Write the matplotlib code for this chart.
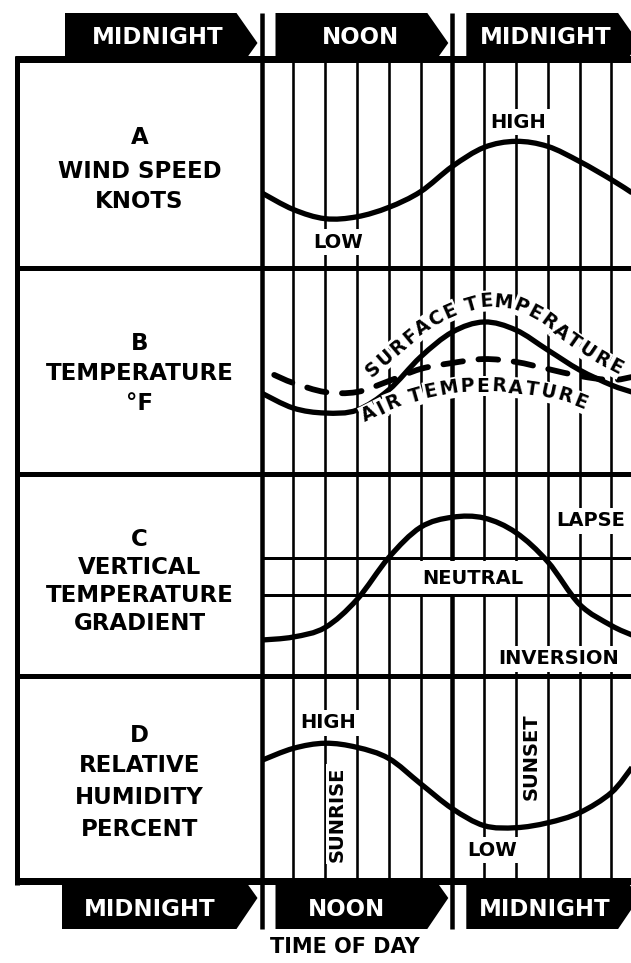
import numpy as np
import matplotlib
matplotlib.use("Agg")
import matplotlib.pyplot as plt
from matplotlib.path import Path
from matplotlib.patches import PathPatch, Polygon
from matplotlib.font_manager import FontProperties

# ---------------- data ----------------
hours = [0, 2, 4, 6, 8, 10, 12, 14, 16, 18, 20, 22, 23.3]
wind_speed = [36, 28, 23.6, 24.5, 29, 36.5, 48.6, 57.7, 60.6, 58.2, 51, 42.3, 36]
surface_temp = [39.3, 32, 29.6, 31, 40.8, 56.8, 68.9, 73.8, 69.9, 60.2, 50.5, 43.2, 39.8]
air_hours = [0.8, 2, 4, 6, 8, 10, 12, 14, 16, 18, 20, 22, 23.3]
air_temp = [48.1, 44.2, 39.8, 39.8, 45.1, 51.0, 53.9, 55.8, 54.4, 51.0, 47.6, 45.6, 47.1]
temp_gradient = [17.8, 19.3, 24.0, 37.8, 58.6, 73.6, 78.6, 78.2, 71.0, 56.6, 35.5, 25.0, 20.3]
neutral_band = [40.1, 58.4]
rel_humidity = [58.8, 64.7, 67.2, 65.2, 59.8, 47.5, 35.3, 27, 26, 28.4, 33.3, 43.1, 55.4]
grid_hours = [2, 4, 6, 8, 10, 14, 16, 18, 20, 22]
major_hours = [0, 12]
time_labels = ["MIDNIGHT", "NOON", "MIDNIGHT"]
panel_titles = [["A", "WIND SPEED", "KNOTS"],
                ["B", "TEMPERATURE", "°F"],
                ["C", "VERTICAL", "TEMPERATURE", "GRADIENT"],
                ["D", "RELATIVE", "HUMIDITY", "PERCENT"]]
xlabel = "TIME OF DAY"

# ---------------- layout ----------------
W, H = 631, 963
X0, PXH = 261.5, 15.9            # grid origin (px) and px per hour
panel_edges = [59, 268, 474, 676, 881]
FONT = "DejaVu Sans"

fig = plt.figure(figsize=(W / 100, H / 100), dpi=100)
fig.patch.set_facecolor("white")

lay = fig.add_axes([0, 0, 1, 1], zorder=0)
lay.set_xlim(0, W); lay.set_ylim(H, 0); lay.axis("off")

def px(p):
    return p * 0.72

# outer frame and dividers
lay.plot([17, 17], [56, 885], color="black", lw=px(5), solid_capstyle="butt")
for yy, t in zip(panel_edges, [7, 5, 5, 5, 7]):
    lay.plot([14.5, W], [yy, yy], color="black", lw=px(t), solid_capstyle="butt")

# thick midnight / noon lines through the banners
for h in major_hours:
    xx = X0 + h * PXH
    lay.plot([xx, xx], [13, 929], color="black", lw=px(4.5), solid_capstyle="butt")

# banners
line_x = [X0 + h * PXH for h in [0, 12, 24]]
top_starts = [65, line_x[0] + 14, line_x[1] + 14]
bot_starts = [62, line_x[0] + 14, line_x[1] + 14]
for s, xl in zip(top_starts, line_x):
    lay.add_patch(Polygon([(s, 13), (xl - 25, 13), (xl - 4, 43), (xl - 14, 57), (s, 57)],
                          closed=True, color="black", lw=0))
for s, xl in zip(bot_starts, line_x):
    lay.add_patch(Polygon([(s, 884), (xl - 14, 884), (xl - 4, 898), (xl - 25, 929), (s, 929)],
                          closed=True, color="black", lw=0))

# ---------------- panels ----------------
def smooth_path(xs, ys):
    pts = np.column_stack([xs, ys]).astype(float)
    n = len(pts)
    verts = [pts[0]]
    codes = [Path.MOVETO]
    for i in range(n - 1):
        p0 = pts[i - 1] if i > 0 else pts[i]
        p1, p2 = pts[i], pts[i + 1]
        p3 = pts[i + 2] if i + 2 < n else pts[i + 1]
        verts += [p1 + (p2 - p0) / 6, p2 - (p3 - p1) / 6, p2]
        codes += [Path.CURVE4] * 3
    return Path(verts, codes)

axes = []
for top, bot in zip(panel_edges[:-1], panel_edges[1:]):
    ax = fig.add_axes([X0 / W, (H - bot) / H, (W - X0) / W, (bot - top) / H], zorder=1)
    ax.set_xlim(0, (W - X0) / PXH)
    ax.set_ylim(0, 100)
    ax.axis("off")
    ax.patch.set_visible(False)
    for h in grid_hours:
        ax.axvline(h, color="black", lw=px(2.6), zorder=1)
    axes.append(ax)

axA, axB, axC, axD = axes
curve_kw = dict(fill=False, edgecolor="black", lw=px(5.3), capstyle="butt",
                joinstyle="round", zorder=5)
axA.add_patch(PathPatch(smooth_path(hours, wind_speed), **curve_kw))
axB.add_patch(PathPatch(smooth_path(hours, surface_temp), **curve_kw))
axB.add_patch(PathPatch(smooth_path(air_hours, air_temp), fill=False, edgecolor="black",
                        lw=px(5.8), linestyle=(0, (3.4, 2.7)), capstyle="round", zorder=5))
for lvl in neutral_band:
    axC.axhline(lvl, color="black", lw=px(3), zorder=3)
axC.text(13.3, sum(neutral_band) / 2 - 0.9, "NEUTRAL", ha="center", va="center", fontsize=14,
         fontweight="bold", family=FONT, zorder=2,
         bbox=dict(boxstyle="square,pad=0.38", fc="white", ec="none"))
axC.add_patch(PathPatch(smooth_path(hours, temp_gradient), **curve_kw))
axD.add_patch(PathPatch(smooth_path(hours, rel_humidity), **curve_kw))

# ---------------- text overlay ----------------
ov = fig.add_axes([0, 0, 1, 1], zorder=3)
ov.set_xlim(0, W); ov.set_ylim(H, 0); ov.axis("off"); ov.patch.set_visible(False)

def label(x, y, s, fs, color="black", box=False, rot=0, pad=0.2):
    kw = dict(ha="center", va="center", fontsize=fs, fontweight="bold",
              family=FONT, color=color, rotation=rot, zorder=6)
    if box:
        kw["bbox"] = dict(boxstyle=f"square,pad={pad}", fc="white", ec="none")
    ov.text(x, y, s, **kw)

# banner texts
for s, x in zip(time_labels, [158, 360, 546]):
    label(x, 37.5, s, 16.5, color="white")
for s, x in zip(time_labels, [150, 347, 545]):
    label(x, 909, s, 16.5, color="white")
label(345, 947, xlabel, 15)

# panel titles
title_y = [[138, 171.5, 202], [343, 374, 404], [540, 567, 595, 623], [735, 766, 798, 829]]
for lines, ys in zip(panel_titles, title_y):
    for s, y in zip(lines, ys):
        label(139.5, y, s, 16.5)

# grid labels
label(518, 122, "HIGH", 14, box=True)
label(338, 242, "LOW", 14, box=True)
label(591, 521, "LAPSE", 14, box=True)
label(559, 659, "INVERSION", 14, box=True)
label(328, 723, "HIGH", 14, box=True)
label(337, 814, "SUNRISE", 14, box=True, rot=90, pad=0.1)
label(531, 757, "SUNSET", 14, box=True, rot=90, pad=0.1)
label(492, 850, "LOW", 14, box=True)

# curved labels in panel B
renderer = fig.canvas.get_renderer()

def text_on_guide(text, guide, fs):
    g = np.array(guide, float)
    seg = np.hypot(*np.diff(g, axis=0).T)
    s = np.concatenate([[0], np.cumsum(seg)])
    fp = FontProperties(family=FONT, weight="bold", size=fs)
    widths = []
    for ch in text:
        if ch == " ":
            widths.append(fs * 100 / 72 * 0.3)
        else:
            w, _, _ = renderer.get_text_width_height_descent(ch, fp, ismath=False)
            widths.append(w)
    adv = np.array(widths)
    nat = np.concatenate([[0], np.cumsum((adv[:-1] + adv[1:]) / 2)])
    extra = (s[-1] - nat[-1]) / (len(text) - 1)
    centers = nat + extra * np.arange(len(text))
    for ch, c in zip(text, centers):
        if ch == " ":
            continue
        x = np.interp(c, s, g[:, 0]); y = np.interp(c, s, g[:, 1])
        dx = np.interp(c + 9, s, g[:, 0]) - np.interp(c - 9, s, g[:, 0])
        dy = np.interp(c + 9, s, g[:, 1]) - np.interp(c - 9, s, g[:, 1])
        ang = np.degrees(np.arctan2(-dy, dx))
        ov.text(x, y, ch, rotation=ang, rotation_mode="anchor", ha="center", va="center",
                fontsize=fs, fontweight="bold", family=FONT, zorder=6,
                bbox=dict(boxstyle="square,pad=0.05", fc="white", ec="none"))

surface_guide = [(373, 369), (397, 348), (420, 329), (450, 311), (485, 301), (517, 304),
                 (543, 318), (570, 339), (598, 358), (615, 367)]
air_guide = [(369, 414), (393, 402), (428, 392), (463, 386), (495, 386), (532, 389),
             (565, 396), (580, 402)]
text_on_guide("SURFACE TEMPERATURE", surface_guide, 13.5)
text_on_guide("AIR TEMPERATURE", air_guide, 13.5)

fig.savefig("out.png", dpi=100, facecolor="white")
